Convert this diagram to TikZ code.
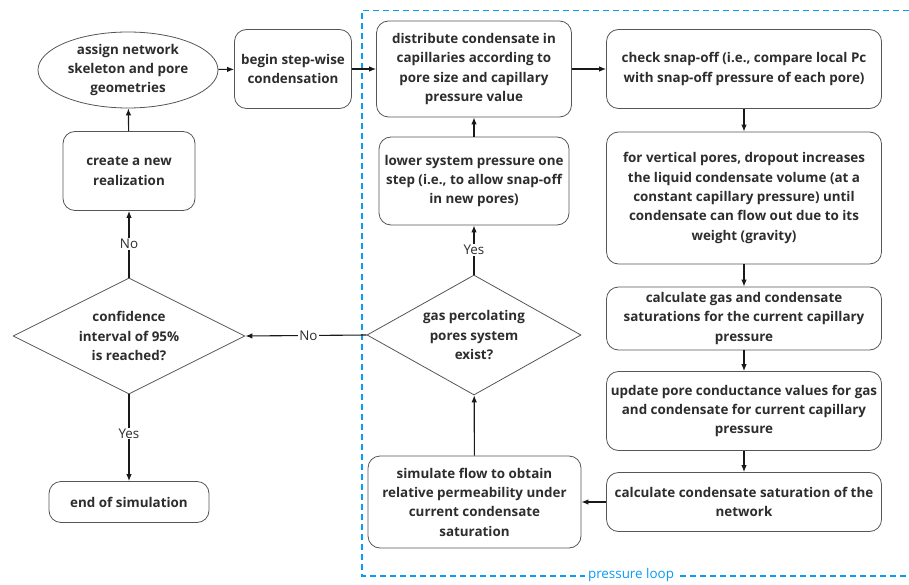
\documentclass[tikz,border=0pt]{standalone}
\usepackage{fontspec}
\setmainfont{Open Sans}
\usepackage{tikz}
\usetikzlibrary{arrows.meta, shapes.geometric, positioning}

\definecolor{loopblue}{RGB}{10,155,245}
\definecolor{linegray}{RGB}{85,85,85}
\definecolor{txtgray}{RGB}{45,45,45}

\tikzset{
  box/.style={draw=linegray, line width=0.8pt, rounded corners=12pt, align=center, text=txtgray,
    font=\bfseries\fontsize{13.4}{19.3}\selectfont, inner sep=2pt},
  decision/.style={draw=linegray, line width=0.8pt, diamond, aspect=2, inner sep=0pt, align=center,
    text=txtgray, font=\bfseries\fontsize{13.4}{19.3}\selectfont},
  flow/.style={-{Latex[length=7pt,width=5.5pt]}, line width=1.1pt, black!90},
  answer/.style={fill=white, text=txtgray, font=\fontsize{13.4}{15}\selectfont, inner sep=1pt}
}

\begin{document}
\begin{tikzpicture}[x=1pt,y=-1pt]
    \useasboundingbox (0,0) rectangle (909,585);

    % Pressure loop frame (open to the right)
    \draw[loopblue, line width=1.2pt, dash pattern=on 6pt off 4pt]
      (909,10.5) -- (362,10.5) -- (362,576) -- (909,576);
    \node[fill=white, text=loopblue, font=\fontsize{13.4}{15}\selectfont] (looplabel) at (631,575) {pressure loop};

    % Outer loop (realizations)
    \node[draw=linegray, line width=0.8pt, ellipse, align=center, text=txtgray, inner sep=0pt,
      minimum width=180pt, minimum height=76pt,
      font=\bfseries\fontsize{13.4}{19.3}\selectfont] (assign) at (128,70)
      {assign network\\skeleton and pore\\geometries};
    \node[box, minimum width=117pt, minimum height=79pt] (begin) at (293,69)
      {begin step-wise\\condensation};
    \node[box, minimum width=132pt, minimum height=79pt] (realize) at (129,171)
      {create a new\\realization};
    \node[decision, minimum width=232pt, minimum height=116pt] (confid) at (129,336)
      {confidence\\interval of 95\%\\is reached?};
    \node[box, minimum width=160pt, minimum height=41pt] (endsim) at (129,502)
      {end of simulation};

    % Pressure loop steps
    \node[box, minimum width=195pt, minimum height=96pt] (distrib) at (474,69)
      {distribute condensate in\\capillaries according to\\pore size and capillary\\pressure value};
    \node[box, minimum width=190pt, minimum height=88pt] (lower) at (474,181)
      {lower system pressure one\\step (i.e., to allow snap-off\\in new pores)};
    \node[decision, minimum width=214pt, minimum height=120pt, aspect=1.8] (percol) at (474,335)
      {gas percolating\\pores system\\exist?};
    \node[box, minimum width=213pt, minimum height=92pt] (simflow) at (474.5,502)
      {simulate flow to obtain\\relative permeability under\\current condensate\\saturation};

    \node[box, minimum width=275pt, minimum height=79pt] (snapoff) at (744,69)
      {check snap-off (i.e., compare local Pc\\with snap-off pressure of each pore)};
    \node[box, minimum width=275pt, minimum height=132pt] (dropout) at (744,198)
      {for vertical pores, dropout increases\\the liquid condensate volume (at a\\constant capillary pressure) until\\condensate can flow out due to its\\weight (gravity)};
    \node[box, minimum width=275pt, minimum height=63pt] (satur) at (744,318.5)
      {calculate gas and condensate\\saturations for the current capillary\\pressure};
    \node[box, minimum width=275pt, minimum height=79pt] (conduct) at (744,411)
      {update pore conductance values for gas\\and condensate for current capillary\\pressure};
    \node[box, minimum width=275pt, minimum height=59pt] (netsat) at (744,502)
      {calculate condensate saturation of the\\network};

    % Connectors
    \draw[flow] (assign) -- (begin);
    \draw[flow] (begin) -- (distrib);
    \draw[flow] (realize) -- (assign);
    \draw[flow] (confid) -- node[answer] {No} (realize);
    \draw[flow] (confid) -- node[answer, pos=0.45] {Yes} (endsim);
    \draw[flow] (distrib) -- (snapoff);
    \draw[flow] (snapoff) -- (dropout);
    \draw[flow] (dropout) -- (satur);
    \draw[flow] (satur) -- (conduct);
    \draw[flow] (conduct) -- (netsat);
    \draw[flow] (netsat) -- (simflow);
    \draw[flow] (simflow) -- (percol);
    \draw[flow] (percol) -- node[answer] {Yes} (lower);
    \draw[flow] (lower) -- (distrib);
    \draw[flow] (percol.west) -- node[answer, pos=0.48] {No} (confid.east);
\end{tikzpicture}
\end{document}
